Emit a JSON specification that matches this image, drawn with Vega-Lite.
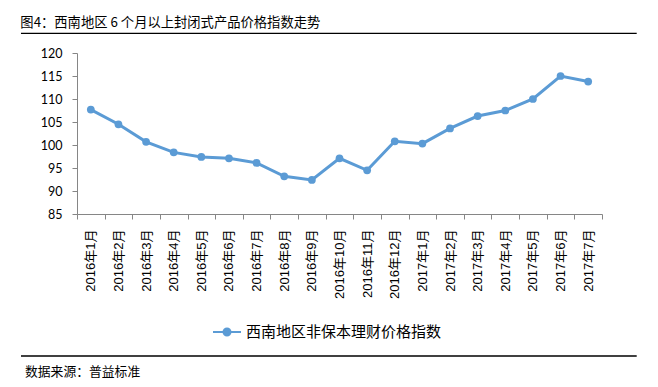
{
  "$schema": "https://vega.github.io/schema/vega-lite/v6.json",
  "width": 525,
  "height": 161,
  "autosize": "none",
  "padding": {"left": 77, "top": 53, "right": 56, "bottom": 173},
  "background": "white",
  "title": {
    "text": "图4：西南地区 6 个月以上封闭式产品价格指数走势",
    "anchor": "start",
    "frame": "bounds",
    "orient": "top",
    "offset": 4,
    "baseline": "bottom",
    "font": "Noto Sans CJK SC",
    "fontSize": 13.3,
    "fontWeight": "normal",
    "color": "#000",
    "dx": 0,
    "dy": 15
  },
  "config": {
    "view": {"stroke": null},
    "axisX": {
      "domainColor": "#868686",
      "tickColor": "#868686",
      "tickSize": 5,
      "labelAngle": -90,
      "labelAlign": "right",
      "labelBaseline": "middle",
      "labelFont": "Liberation Sans, Noto Sans CJK SC",
      "labelFontSize": 13,
      "labelColor": "#000",
      "labelPadding": 10,
      "labelOverlap": false,
      "tickBand": "extent",
      "title": null,
      "grid": false
    },
    "axisY": {
      "domainColor": "#868686",
      "tickColor": "#868686",
      "tickSize": 5,
      "labelFont": "Lato",
      "labelFontSize": 12.5,
      "labelColor": "#000",
      "labelPadding": 10,
      "labelOverlap": false,
      "labelFlush": false,
      "title": null,
      "grid": false
    }
  },
  "layer": [
    {
      "data": {
        "values": [
          {"month": "2016年1月", "index": 107.7, "series": "西南地区非保本理财价格指数"},
          {"month": "2016年2月", "index": 104.5, "series": "西南地区非保本理财价格指数"},
          {"month": "2016年3月", "index": 100.7, "series": "西南地区非保本理财价格指数"},
          {"month": "2016年4月", "index": 98.4, "series": "西南地区非保本理财价格指数"},
          {"month": "2016年5月", "index": 97.4, "series": "西南地区非保本理财价格指数"},
          {"month": "2016年6月", "index": 97.1, "series": "西南地区非保本理财价格指数"},
          {"month": "2016年7月", "index": 96.1, "series": "西南地区非保本理财价格指数"},
          {"month": "2016年8月", "index": 93.2, "series": "西南地区非保本理财价格指数"},
          {"month": "2016年9月", "index": 92.4, "series": "西南地区非保本理财价格指数"},
          {"month": "2016年10月", "index": 97.1, "series": "西南地区非保本理财价格指数"},
          {"month": "2016年11月", "index": 94.5, "series": "西南地区非保本理财价格指数"},
          {"month": "2016年12月", "index": 100.8, "series": "西南地区非保本理财价格指数"},
          {"month": "2017年1月", "index": 100.3, "series": "西南地区非保本理财价格指数"},
          {"month": "2017年2月", "index": 103.6, "series": "西南地区非保本理财价格指数"},
          {"month": "2017年3月", "index": 106.3, "series": "西南地区非保本理财价格指数"},
          {"month": "2017年4月", "index": 107.5, "series": "西南地区非保本理财价格指数"},
          {"month": "2017年5月", "index": 110.0, "series": "西南地区非保本理财价格指数"},
          {"month": "2017年6月", "index": 115.0, "series": "西南地区非保本理财价格指数"},
          {"month": "2017年7月", "index": 113.8, "series": "西南地区非保本理财价格指数"}
        ]
      },
      "mark": {"type": "line", "strokeWidth": 3, "point": {"filled": true, "size": 60}},
      "encoding": {
        "x": {
          "field": "month",
          "type": "ordinal",
          "sort": null,
          "bandPosition": 0.5,
          "scale": {"type": "band", "paddingInner": 0, "paddingOuter": 0},
          "axis": {"title": null}
        },
        "y": {
          "field": "index",
          "type": "quantitative",
          "scale": {"domain": [85, 120], "nice": false, "zero": false},
          "axis": {"title": null, "values": [85, 90, 95, 100, 105, 110, 115, 120], "tickCount": 8, "labelOverlap": false}
        },
        "color": {
          "field": "series",
          "type": "nominal",
          "scale": {"range": ["#5B9BD5"]},
          "legend": {
            "orient": "none",
            "legendX": 135,
            "legendY": 264,
            "title": null,
            "padding": 0,
            "symbolType": "M-1,0H1M-0.25,0A0.25,0.25,0,1,1,0.25,0A0.25,0.25,0,1,1,-0.25,0Z",
            "symbolSize": 784,
            "symbolStrokeWidth": 2,
            "symbolFillColor": "#5B9BD5",
            "symbolStrokeColor": "#5B9BD5",
            "labelFont": "Noto Sans CJK SC",
            "labelFontSize": 15,
            "labelColor": "#000",
            "labelOffset": 4,
            "labelLimit": 400
          }
        }
      }
    },
    {
      "data": {"values": [{"rule": "title"}]},
      "mark": {"type": "rule", "color": "#000", "strokeWidth": 1.3},
      "encoding": {
        "x": {"datum": -0.1067, "type": "quantitative", "scale": {"domain": [0, 1], "nice": false, "zero": false}, "axis": null},
        "x2": {"datum": 1.0661},
        "y": {"datum": 124.28, "type": "quantitative", "axis": {"title": null, "values": [85, 90, 95, 100, 105, 110, 115, 120], "tickCount": 8, "labelOverlap": false}}
      }
    },
    {
      "data": {"values": [{"rule": "footer"}]},
      "mark": {"type": "rule", "color": "#000", "strokeWidth": 1.3},
      "encoding": {
        "x": {"datum": -0.1067, "type": "quantitative", "scale": {"domain": [0, 1], "nice": false, "zero": false}, "axis": null},
        "x2": {"datum": 1.0661},
        "y": {"datum": 54.13, "type": "quantitative", "axis": {"title": null, "values": [85, 90, 95, 100, 105, 110, 115, 120], "tickCount": 8, "labelOverlap": false}}
      }
    },
    {
      "data": {"values": [{"source": "数据来源：普益标准"}]},
      "mark": {"type": "text", "align": "left", "baseline": "middle", "font": "Noto Sans CJK SC", "fontSize": 12.8, "color": "#000"},
      "encoding": {
        "x": {"datum": -0.099, "type": "quantitative", "scale": {"domain": [0, 1], "nice": false, "zero": false}, "axis": null},
        "y": {"datum": 50.72, "type": "quantitative", "axis": {"title": null, "values": [85, 90, 95, 100, 105, 110, 115, 120], "tickCount": 8, "labelOverlap": false}},
        "text": {"field": "source"}
      }
    }
  ],
  "resolve": {"scale": {"x": "independent"}}
}
